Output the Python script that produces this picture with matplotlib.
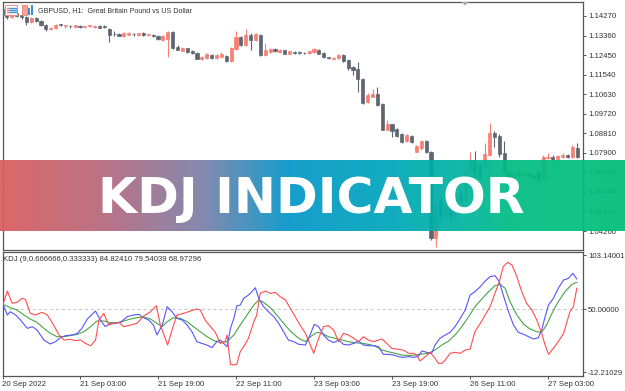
import numpy as np
import matplotlib
matplotlib.use("Agg")
import matplotlib.pyplot as plt
from matplotlib.colors import LinearSegmentedColormap
from matplotlib.patches import Rectangle, Polygon

# ---------------- data ----------------
opens = [1.1460,1.1437,1.1423,1.1441,1.1432,1.1423,1.1400,1.1418,1.1404,1.1386,
 1.1367,1.1372,1.1390,1.1381,1.1381,1.1376,1.1381,1.1376,1.1379,1.1376,
 1.1381,1.1379,1.1367,1.1344,1.1344,1.1332,1.1339,1.1344,1.1339,1.1348,
 1.1337,1.1339,1.1334,1.1316,1.1320,1.1353,1.1283,1.1264,1.1278,1.1264,
 1.1255,1.1227,1.1232,1.1246,1.1232,1.1236,1.1241,1.1218,1.1274,1.1330,
 1.1292,1.1339,1.1316,1.1339,1.1246,1.1260,1.1274,1.1260,1.1269,1.1250,
 1.1260,1.1260,1.1257,1.1255,1.1260,1.1269,1.1255,1.1236,1.1229,1.1232,
 1.1246,1.1222,1.1190,1.1180,1.1134,1.1027,1.1050,1.1064,1.1017,1.0896,
 1.0924,1.0901,1.0878,1.0845,1.0868,1.0794,1.0812,1.0845,1.0794,1.0393,
 1.0570,1.0500,1.0547,1.0491,1.0603,1.0570,1.0700,1.0756,1.0733,1.0724,
 1.0780,1.0882,1.0868,1.0789,1.0700,1.0677,1.0700,1.0687,1.0696,1.0687,
 1.0700,1.0668,1.0768,1.0770,1.0761,1.0770,1.0780,1.0770,1.0812]
highs = [1.1465,1.1441,1.1446,1.1446,1.1437,1.1427,1.1423,1.1423,1.1409,1.1390,
 1.1376,1.1390,1.1390,1.1386,1.1386,1.1386,1.1386,1.1381,1.1386,1.1386,
 1.1383,1.1386,1.1372,1.1358,1.1348,1.1353,1.1353,1.1348,1.1348,1.1353,
 1.1344,1.1344,1.1339,1.1339,1.1358,1.1358,1.1292,1.1283,1.1280,1.1269,
 1.1260,1.1241,1.1255,1.1248,1.1248,1.1260,1.1246,1.1283,1.1358,1.1334,
 1.1367,1.1348,1.1348,1.1344,1.1302,1.1278,1.1278,1.1274,1.1271,1.1266,
 1.1264,1.1264,1.1260,1.1264,1.1278,1.1274,1.1260,1.1238,1.1236,1.1248,
 1.1248,1.1227,1.1194,1.1213,1.1139,1.1069,1.1087,1.1097,1.1022,1.0943,
 1.0926,1.0906,1.0882,1.0878,1.0873,1.0826,1.0850,1.0850,1.0798,1.0570,
 1.0593,1.0556,1.0570,1.0617,1.0626,1.0724,1.0794,1.0798,1.0747,1.0836,
 1.0929,1.0892,1.0878,1.0845,1.0710,1.0705,1.0705,1.0710,1.0700,1.0691,
 1.0705,1.0780,1.0789,1.0780,1.0780,1.0789,1.0784,1.0826,1.0836]
lows = [1.1427,1.1413,1.1418,1.1423,1.1413,1.1386,1.1395,1.1400,1.1381,1.1358,
 1.1362,1.1367,1.1381,1.1372,1.1372,1.1372,1.1372,1.1372,1.1376,1.1372,
 1.1369,1.1372,1.1306,1.1334,1.1332,1.1330,1.1337,1.1334,1.1334,1.1334,
 1.1334,1.1330,1.1316,1.1311,1.1236,1.1274,1.1267,1.1262,1.1257,1.1250,
 1.1225,1.1222,1.1227,1.1229,1.1229,1.1234,1.1213,1.1213,1.1269,1.1288,
 1.1288,1.1269,1.1311,1.1241,1.1241,1.1255,1.1260,1.1257,1.1248,1.1248,
 1.1250,1.1250,1.1250,1.1250,1.1257,1.1248,1.1232,1.1227,1.1227,1.1227,
 1.1213,1.1176,1.1153,1.1073,1.1017,1.1022,1.1048,1.1010,1.0894,1.0894,
 1.0864,1.0864,1.0838,1.0840,1.0838,1.0792,1.0803,1.0789,1.0384,1.0351,
 1.0468,1.0477,1.0468,1.0481,1.0556,1.0561,1.0687,1.0673,1.0663,1.0719,
 1.0775,1.0817,1.0770,1.0691,1.0663,1.0673,1.0677,1.0682,1.0673,1.0663,
 1.0654,1.0663,1.0761,1.0752,1.0756,1.0766,1.0766,1.0766,1.0766]
closes = [1.1432,1.1423,1.1441,1.1427,1.1423,1.1400,1.1418,1.1404,1.1386,1.1367,
 1.1372,1.1386,1.1386,1.1383,1.1379,1.1386,1.1376,1.1379,1.1383,1.1381,
 1.1372,1.1376,1.1339,1.1341,1.1334,1.1348,1.1348,1.1341,1.1348,1.1337,
 1.1341,1.1334,1.1320,1.1334,1.1353,1.1278,1.1269,1.1278,1.1260,1.1255,
 1.1227,1.1236,1.1250,1.1232,1.1246,1.1250,1.1218,1.1278,1.1330,1.1292,
 1.1339,1.1316,1.1344,1.1246,1.1269,1.1274,1.1264,1.1269,1.1250,1.1264,
 1.1255,1.1255,1.1255,1.1264,1.1274,1.1250,1.1236,1.1232,1.1232,1.1246,
 1.1218,1.1185,1.1176,1.1134,1.1022,1.1059,1.1064,1.1013,1.0896,1.0924,
 1.0892,1.0868,1.0840,1.0873,1.0840,1.0822,1.0845,1.0794,1.0393,1.0547,
 1.0491,1.0537,1.0491,1.0593,1.0570,1.0700,1.0756,1.0687,1.0677,1.0784,
 1.0882,1.0864,1.0784,1.0696,1.0677,1.0696,1.0687,1.0700,1.0682,1.0673,
 1.0663,1.0770,1.0770,1.0756,1.0775,1.0780,1.0770,1.0817,1.0770]

# KDJ lines (bar position, value)
k_x = [0.1,1.0,1.6,2.7,3.7,5.1,6.1,7.1,8.5,9.8,10.9,11.9,12.9,14.3,15.3,16.3,17.4,19.1,20.1,21.1,
 22.2,23.2,24.2,25.6,26.9,28.0,29.0,30.0,31.0,31.7,32.8,33.8,34.8,35.8,36.9,37.9,38.9,39.9,41.3,42.3,
 43.0,44.0,44.7,45.4,46.1,46.8,47.5,48.1,48.8,49.5,50.5,51.2,51.9,52.6,53.6,54.6,55.7,56.7,57.7,58.7,
 59.8,60.8,62.2,63.2,64.0,64.9,65.9,66.9,68.0,69.0,70.0,71.0,72.1,73.1,74.1,75.1,76.2,77.2,78.2,79.2,
 80.3,81.3,82.3,83.4,84.4,85.4,86.1,87.1,88.1,88.8,89.8,90.9,91.9,92.9,93.9,95.0,96.0,97.0,98.1,99.1,
 100.1,101.1,102.0,102.8,103.9,104.9,105.9,107.0,108.0,109.0,110.0,110.7,111.4,112.1,113.1,114.1,115.2,116.2,117.1,117.9]
k_v = [54.6,44.1,47.3,44.1,39.1,30.9,32.6,29.3,19.4,15.5,17.8,21.7,23.7,24.4,25.7,30.9,40.1,48.0,39.1,32.6,
 35.9,35.9,36.8,42.4,44.1,44.7,41.4,39.1,34.2,24.4,34.2,52.3,47.3,40.8,39.1,34.2,27.6,17.8,15.5,13.8,
 11.9,17.8,19.4,16.1,12.8,30.9,40.8,53.0,53.9,60.5,63.8,67.1,71.0,60.5,52.3,47.3,42.4,35.9,27.6,19.4,
 17.8,15.2,14.5,25.0,34.9,32.6,24.4,19.4,16.8,19.4,15.2,14.5,16.1,18.4,14.5,13.8,13.8,12.8,5.3,5.3,
 4.6,3.0,2.3,3.0,2.3,3.6,8.6,7.3,6.3,14.5,21.1,24.4,27.0,32.6,40.1,49.0,63.8,67.1,72.0,77.6,
 81.9,82.9,76.9,63.8,47.3,34.2,27.0,25.0,22.7,20.4,21.7,29.3,42.4,53.9,60.5,70.4,78.6,80.2,85.2,79.6]
d_x = [0.1,1.6,3.0,4.4,5.7,7.1,8.5,9.8,11.2,12.6,13.9,15.3,16.7,18.1,19.4,20.8,22.2,23.5,24.9,26.3,
 27.6,29.0,30.4,31.7,32.8,33.8,35.1,36.5,37.9,39.2,40.6,42.0,43.4,44.7,46.1,47.5,48.8,50.2,51.6,52.6,
 53.6,55.0,56.3,57.7,59.1,60.4,61.1,62.2,63.2,64.6,65.6,66.9,68.3,69.7,71.0,72.4,73.8,75.1,76.5,77.9,
 79.2,80.6,82.0,83.4,84.7,86.1,87.5,88.8,90.2,91.6,92.9,94.3,95.7,97.0,98.4,99.8,101.1,102.2,103.2,104.2,
 105.6,107.0,108.3,109.7,110.7,111.7,112.8,114.1,115.5,116.9,117.9]
d_v = [54.6,51.3,49.0,44.1,40.1,36.8,30.9,26.0,22.7,22.7,23.7,25.0,27.6,32.6,38.2,38.2,36.5,36.5,38.2,40.1,
 41.4,42.1,40.1,35.9,32.6,37.5,41.4,40.8,37.5,32.6,27.6,22.7,18.8,17.1,17.8,24.4,34.2,44.1,53.9,58.9,
 56.6,51.3,44.1,35.9,28.3,22.7,20.4,17.8,22.7,27.0,26.0,22.7,21.1,19.4,17.8,16.8,16.1,15.2,13.5,9.6,
 7.9,6.3,4.6,4.0,4.6,5.6,6.3,9.6,14.5,18.4,24.4,32.6,42.4,52.3,59.9,67.1,73.0,74.3,70.4,57.2,
 44.1,34.9,30.3,27.6,27.0,34.2,45.7,57.2,67.1,74.3,76.3]
j_x = [0.1,1.0,2.0,3.0,4.0,4.7,5.7,6.8,8.1,9.2,10.5,11.6,12.6,14.0,15.0,16.0,17.0,18.1,19.1,19.8,
 20.8,21.8,22.8,23.9,24.9,26.3,27.6,29.0,30.4,31.6,32.4,33.9,34.8,35.8,37.2,38.6,39.9,40.6,41.6,42.7,
 43.7,44.7,45.7,46.1,46.8,47.5,48.1,48.8,49.5,50.5,51.6,52.2,52.9,54.0,55.0,56.0,57.0,58.1,59.1,60.1,
 61.1,62.2,63.2,63.9,64.9,65.9,66.9,68.0,69.0,70.0,71.0,72.1,73.1,74.1,75.1,76.2,77.9,78.9,79.9,81.0,
 82.3,83.4,84.4,85.1,85.7,86.8,87.8,88.8,89.5,90.2,90.9,91.9,92.9,94.0,95.0,96.0,97.0,98.1,99.1,100.1,
 101.1,102.0,102.8,103.7,104.6,105.6,106.6,107.6,108.7,109.7,110.7,111.4,112.1,113.1,114.1,115.2,115.8,116.5,117.2,117.9]
j_v = [54.6,67.7,55.6,56.6,60.5,59.5,45.7,44.1,46.7,44.1,34.2,24.4,19.4,20.1,18.8,19.4,16.1,13.8,19.4,39.1,
 45.7,34.2,35.9,36.8,32.6,34.2,35.9,43.1,47.3,53.3,34.2,14.5,29.3,44.1,45.7,48.0,50.0,49.0,39.1,32.6,
 27.0,16.1,17.8,24.4,-4.6,-5.2,-4.6,7.9,12.8,21.1,37.5,44.1,65.4,67.7,65.4,66.4,62.2,58.9,50.6,42.4,
 34.2,26.0,14.5,6.3,21.1,32.6,33.6,29.3,17.8,26.0,24.4,21.1,17.8,22.7,19.4,17.8,20.4,16.1,11.2,10.5,
 9.5,6.3,6.3,4.6,-1.3,3.0,7.3,1.3,-3.6,-3.6,-0.3,6.3,7.3,6.3,9.6,10.5,27.6,35.9,44.1,52.3,
 65.4,77.0,91.7,96.0,93.4,81.9,67.1,55.6,49.0,39.1,26.0,14.5,5.3,11.2,17.8,26.0,35.9,47.3,52.3,70.4]

price_ticks = [1.14270,1.13360,1.12450,1.11540,1.10630,1.09720,1.08810,1.07900,1.06990,1.06080,1.05170,1.04260]
kdj_ticks = [103.14001, 50.0, -12.21029]
kdj_tick_labels = ["103.14001", "50.00000", "-12.21029"]
time_tick_pos = [0, 16, 32, 48, 64, 80, 96, 112]
time_tick_labels = ["20 Sep 2022", "21 Sep 03:00", "21 Sep 19:00", "22 Sep 11:00",
                    "23 Sep 03:00", "23 Sep 19:00", "26 Sep 11:00", "27 Sep 03:00"]
title_text = "GBPUSD, H1:  Great Britain Pound vs US Dollar"
kdj_label = "KDJ (9,0.666666,0.333333) 84.82410 79.54039 68.97296"
banner_text = "KDJ INDICATOR"

# ---------------- styling ----------------
W, H = 625, 391
BULL = "#f77f74"
BEAR = "#5e6771"
FRAME = "#555555"
TXT = "#333333"
SMALL = dict(family="Liberation Sans", fontsize=5.6, color=TXT)

fig = plt.figure(figsize=(W / 100, H / 100), dpi=100)
fig.patch.set_facecolor("white")

def fx(x):
    return x / W

def fy(y):
    return 1 - y / H

L, R = 2.5, 582.5
PXB = 4.875  # pixels per bar
ax = fig.add_axes([fx(L), fy(250), (R - L) / W, 248 / H])
sub = fig.add_axes([fx(L), fy(375.5), (R - L) / W, 124 / H])

for a in (ax, sub):
    a.set_xlim((L - 2) / PXB, (R - 2) / PXB)
    for s in a.spines.values():
        s.set_color(FRAME)
        s.set_linewidth(0.9)
    a.set_facecolor("white")

# price scale: 1.14270 at y=16px, 1.04260 at y=231px
slope = (1.14270 - 1.04260) / (231 - 16)
ax.set_ylim(1.14270 - (250 - 16) * slope, 1.14270 - (2 - 16) * slope)
# kdj scale: 50 at y=309, 103.14 at y=255
ks = 1 / 1.0143
sub.set_ylim(50 - (375.5 - 309) * ks, 50 - (251.5 - 309) * ks)

# candles
o = np.array(opens); h = np.array(highs); l = np.array(lows); c = np.array(closes)
idx = np.arange(len(o))
cols = np.where(c >= o, BULL, BEAR)
ax.vlines(idx, l, h, colors=cols, linewidth=0.8, zorder=2)
ax.bar(idx, np.abs(c - o), bottom=np.minimum(o, c), width=0.62, color=cols,
       edgecolor=cols, linewidth=0.5, zorder=3)

ax.set_xticks([])
ax.yaxis.tick_right()
ax.set_yticks(price_ticks)
ax.set_yticklabels([f"{p:.5f}" for p in price_ticks], **SMALL)
ax.tick_params(axis="y", direction="out", length=2.5, width=0.7, color=FRAME, pad=1.5)

# KDJ
sub.axhline(50, color="#c4c4c4", linewidth=0.7, linestyle=(0, (3, 3)), zorder=1)
sub.plot(d_x, d_v, color="#47a447", linewidth=0.8, zorder=3)
sub.plot(k_x, k_v, color="#5555ff", linewidth=0.8, zorder=4)
sub.plot(j_x, j_v, color="#ff4d4d", linewidth=0.8, zorder=5)
sub.yaxis.tick_right()
sub.set_yticks(kdj_ticks)
sub.set_yticklabels(kdj_tick_labels, **SMALL)
sub.set_xticks(time_tick_pos)
sub.set_xticklabels(time_tick_labels, **SMALL)
for t in sub.get_xticklabels():
    t.set_ha("left")
sub.tick_params(axis="both", direction="out", length=2.5, width=0.7, color=FRAME, pad=1.5)

# header texts
title = fig.text(fx(37.5), fy(10.5), title_text, va="center", ha="left", **SMALL)
klab = fig.text(fx(3), fy(259.5), kdj_label, va="center", ha="left", **SMALL)

# banner
bax = fig.add_axes([0, fy(231), 1, 71 / H])
bax.set_axis_off()
stops = [(0.0, "#da5c5d"), (0.17, "#b4687e"), (0.32, "#7d80a8"), (0.46, "#0596c9"),
         (0.62, "#00a6bb"), (0.76, "#00b79a"), (0.83, "#00be80"), (1.0, "#00be7c")]
cmap = LinearSegmentedColormap.from_list("banner", stops)
bax.imshow(np.linspace(0, 1, 625)[None, :], aspect="auto", cmap=cmap,
           extent=[0, 1, 0, 1], alpha=0.93, interpolation="bilinear")
bax.set_xlim(0, 1); bax.set_ylim(0, 1)
btxt = bax.text(311.5 / W, (231 - 213.5) / 71, banner_text, color="white",
                family="DejaVu Sans", fontweight="bold", fontsize=36,
                ha="center", va="baseline")

# overlay for small interface marks
ov = fig.add_axes([0, 0, 1, 1])
ov.set_xlim(0, W); ov.set_ylim(H, 0); ov.set_axis_off()
ov.add_patch(Rectangle((5, 5), 12, 9.5, facecolor="white", edgecolor="#f08a80", linewidth=0.7))
for yy in (7.5, 9.8, 12.1):
    ov.plot([6.5, 8.5], [yy, yy], color="#f0847a", linewidth=1.0)
    ov.plot([10, 16], [yy, yy], color="#3d8fd6", linewidth=1.0)
ov.add_patch(Rectangle((22, 5), 5, 9.5, facecolor="#f6a39a", edgecolor="#f08a80", linewidth=0.7))
ov.add_patch(Rectangle((28, 8), 2, 6.5, facecolor="#3d8fd6", edgecolor="none"))
ov.add_patch(Rectangle((31, 5), 2, 9.5, facecolor="#3d8fd6", edgecolor="none"))
ov.add_patch(Polygon([(461.5, 2), (468.5, 2), (465, 5.5)], closed=True, facecolor="#a9a9a9", edgecolor="none"))

# fit text widths to the reference
fig.canvas.draw()
rend = fig.canvas.get_renderer()
for t, target in ((title, 154), (klab, 199), (btxt, 427)):
    w = t.get_window_extent(rend).width
    t.set_fontsize(t.get_fontsize() * target / w)

fig.savefig("out.png", dpi=100, facecolor="white")
